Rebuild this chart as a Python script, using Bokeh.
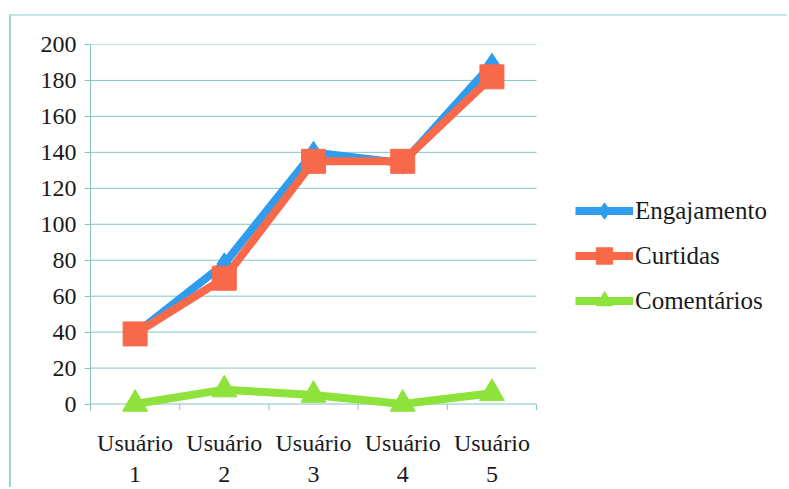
from bokeh.plotting import figure
from bokeh.models import (FixedTicker, LinearAxis, Legend, LegendItem,
                          ColumnDataSource, Range1d)
from bokeh.embed import file_html
from bokeh.resources import INLINE

# Dados por usuário
usuarios = ["Usuário\n1", "Usuário\n2", "Usuário\n3", "Usuário\n4", "Usuário\n5"]
x_pos = [1, 2, 3, 4, 5]
engajamento = [39, 78, 140, 134, 189]
curtidas = [39, 70, 135, 135, 182]
comentarios = [0, 8, 5, 0, 6]
y_ticks = [0, 20, 40, 60, 80, 100, 120, 140, 160, 180, 200]

FONT = "Liberation Serif"
TEXT = "#1a1a1a"
GRID = "#86c4c4"
BLUE = "#2f9cee"
RED = "#f8694a"
GREEN = "#8ee23c"

src = ColumnDataSource(dict(x=x_pos, eng=engajamento, cur=curtidas, com=comentarios))

# a área de desenho vai até a borda direita; a legenda fica à direita das categorias
p = figure(width=778, height=473, output_backend="svg", toolbar_location=None,
           x_range=Range1d(0.5, 8.336), y_range=Range1d(-7.5, 200),
           x_axis_location=None,
           min_border_left=79, min_border_right=0, min_border_top=28,
           min_border_bottom=69)
p.margin = (14, 0, 0, 9)
p.styles = {"border-left": "2px solid #9fd2d2", "border-top": "2px solid #c4e6e6"}
p.outline_line_color = None
p.background_fill_color = "white"
p.border_fill_color = "white"
p.xgrid.grid_line_color = None
p.ygrid.grid_line_color = None

# linhas de grade horizontais limitadas às categorias
x_lo = x_pos[0] - 0.5
x_hi = x_pos[-1] + 0.5
p.segment(x0=[x_lo] * len(y_ticks), y0=y_ticks, x1=[x_hi] * len(y_ticks), y1=y_ticks,
          line_color=GRID, line_width=1)

# eixo vertical
p.yaxis.ticker = FixedTicker(ticks=y_ticks)
p.yaxis.bounds = (-3.4, 200)
p.yaxis.axis_line_color = GRID
p.yaxis.major_tick_line_color = GRID
p.yaxis.major_tick_out = 6
p.yaxis.major_tick_in = 0
p.yaxis.minor_tick_line_color = None
p.yaxis.major_label_text_font = FONT
p.yaxis.major_label_text_font_size = "24px"
p.yaxis.major_label_text_color = TEXT
p.yaxis.major_label_standoff = 8

# rótulos das categorias
xaxis = LinearAxis(ticker=FixedTicker(ticks=x_pos),
                   major_label_overrides={x: lab for x, lab in zip(x_pos, usuarios)},
                   axis_line_color=None, major_tick_line_color=None,
                   minor_tick_line_color=None, major_label_standoff=6,
                   major_label_text_font=FONT, major_label_text_font_size="24px",
                   major_label_text_color=TEXT)
p.add_layout(xaxis, "below")

# marcas de divisão das categorias abaixo do zero
bounds_x = [x - 0.5 for x in x_pos] + [x_hi]
p.segment(x0=bounds_x, y0=[0] * len(bounds_x), x1=bounds_x, y1=[-3.4] * len(bounds_x),
          line_color=GRID, line_width=1)

# séries
l_eng = p.line("x", "eng", source=src, line_color=BLUE, line_width=8)
s_eng = p.scatter("x", "eng", source=src, marker="diamond", size=22,
                  fill_color=BLUE, line_color=BLUE)
l_cur = p.line("x", "cur", source=src, line_color=RED, line_width=8)
s_cur = p.scatter("x", "cur", source=src, marker="square", size=24,
                  fill_color=RED, line_color=RED)
l_com = p.line("x", "com", source=src, line_color=GREEN, line_width=8)
s_com = p.scatter("x", "com", source=src, marker="triangle", size=25,
                  fill_color=GREEN, line_color=GREEN)

legend = Legend(items=[
    LegendItem(label="Engajamento", renderers=[l_eng, s_eng]),
    LegendItem(label="Curtidas", renderers=[l_cur, s_cur]),
    LegendItem(label="Comentários", renderers=[l_com, s_com]),
], location=(485, 96), margin=0, padding=0, spacing=4,
    glyph_width=58, glyph_height=41, label_standoff=2,
    label_text_font=FONT, label_text_font_size="25px", label_text_color=TEXT,
    background_fill_alpha=0, border_line_color=None)
p.add_layout(legend, "center")

open("out.html", "w").write(file_html(p, INLINE))
